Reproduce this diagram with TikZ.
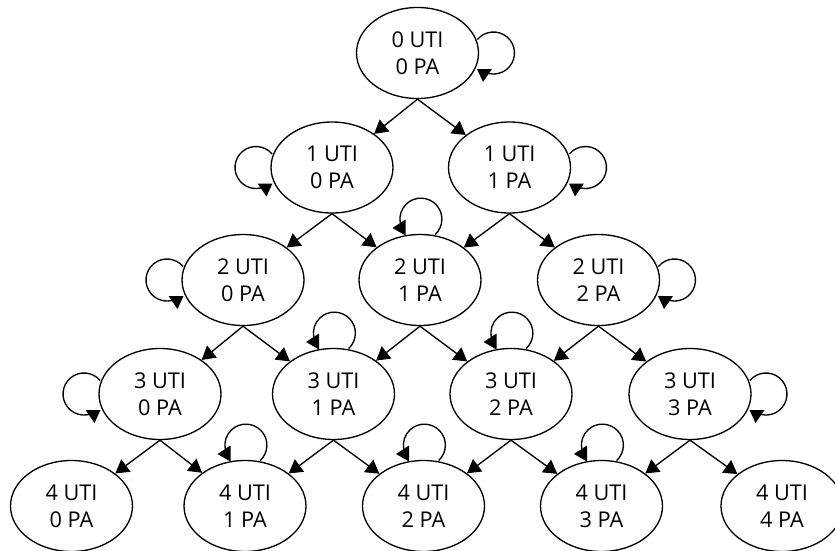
\documentclass[tikz,border=0pt]{standalone}
\usepackage{fontspec}
\setmainfont{Open Sans}
\usetikzlibrary{shapes.geometric,arrows.meta}
\tikzset{
  state/.style={ellipse, draw, line width=1pt, minimum width=91.5pt, minimum height=68.25pt,
    inner sep=0pt, align=center, font=\fontsize{16.3pt}{20pt}\selectfont},
  edge/.style={line width=1pt, -{Triangle[length=10pt,width=11.5pt]}},
  rloop/.pic={
    \draw[line width=1pt] (59.9,-13.5) arc[start angle=-140, end angle=108, radius=21];
    \fill (59.5,16) -- (74.5,16) -- (65.5,29) -- cycle;
  },
  lloop/.pic={
    \draw[line width=1pt] (-59.9,-13.5) arc[start angle=320, end angle=72, radius=21];
    \fill (-59.5,16) -- (-74.5,16) -- (-65.5,29) -- cycle;
  },
  tloop/.pic={
    \draw[line width=1pt] (15.2,-45.5) arc[start angle=47, end angle=-191, radius=21];
    \fill (-27.5,-52) -- (-14.5,-60.5) -- (-14.5,-44.5) -- cycle;
  }
}
\begin{document}
\begin{tikzpicture}[x=0.75pt,y=-0.75pt]
\path[use as bounding box, clip] (0,0) rectangle (835,550);
\fill[white] (0,0) rectangle (835,550);
% nodes
\node[state] (n00) at (417.5,53) {0 UTI\\0 PA};
\node[state] (n10) at (332,167.5) {1 UTI\\0 PA};
\node[state] (n11) at (509.5,167.5) {1 UTI\\1 PA};
\node[state] (n20) at (243,280) {2 UTI\\0 PA};
\node[state] (n21) at (420,280) {2 UTI\\1 PA};
\node[state] (n22) at (598.5,280) {2 UTI\\2 PA};
\node[state] (n30) at (160,394) {3 UTI\\0 PA};
\node[state] (n31) at (333.5,394) {3 UTI\\1 PA};
\node[state] (n32) at (511,394) {3 UTI\\2 PA};
\node[state] (n33) at (690,394) {3 UTI\\3 PA};
\node[state] (n40) at (71.5,506) {4 UTI\\0 PA};
\node[state] (n41) at (245,506) {4 UTI\\1 PA};
\node[state] (n42) at (423.5,506) {4 UTI\\2 PA};
\node[state] (n43) at (601.5,506) {4 UTI\\3 PA};
\node[state] (n44) at (782,506) {4 UTI\\4 PA};
% edges
\foreach \p/\a/\b in {n00/n10/n11, n10/n20/n21, n11/n21/n22, n20/n30/n31, n21/n31/n32,
  n22/n32/n33, n30/n40/n41, n31/n41/n42, n32/n42/n43, n33/n43/n44}{
  \draw[edge] (\p.south) -- (\a);
  \draw[edge] (\p.south) -- (\b);
}
% self loops
\foreach \n in {n00,n11,n22,n33}{ \pic at (\n) {rloop}; }
\foreach \n in {n10,n20,n30}{ \pic at (\n) {lloop}; }
\foreach \n in {n21,n31,n32,n41,n42,n43}{ \pic at (\n) {tloop}; }
\end{tikzpicture}
\end{document}
